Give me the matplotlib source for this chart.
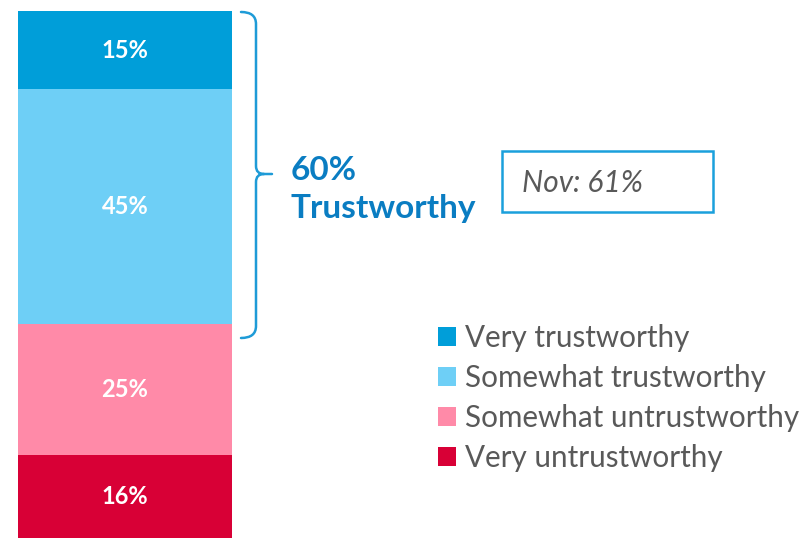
import matplotlib
matplotlib.use("Agg")
import matplotlib.pyplot as plt
from matplotlib.patches import Rectangle, PathPatch
from matplotlib.path import Path

plt.rcParams['font.family'] = ['Lato', 'DejaVu Sans']

# Stacked shares, bottom to top
categories = ["Very untrustworthy", "Somewhat untrustworthy",
              "Somewhat trustworthy", "Very trustworthy"]
values = [16, 25, 45, 15]
colors = ["#D80036", "#FF8AA8", "#6ECFF6", "#009ED9"]
trust_total = "60%"
trust_label = "Trustworthy"
prior_note = "Nov: 61%"

W, H = 803, 539
fig = plt.figure(figsize=(W / 100, H / 100), dpi=100)


def fx(x):
    return x / W


def fy(y):
    return 1 - y / H


ax = fig.add_axes([fx(18), fy(538), 214 / W, 527 / H])
bottom = 0
handles = []
for cat, val, col in zip(categories, values, colors):
    b = ax.bar(0, val, bottom=bottom, width=1.0, color=col, label=cat,
               linewidth=0)
    handles.append(b)
    ax.text(0, bottom + val / 2, f"{val}%", ha="center", va="center",
            color="white", fontsize=17, fontweight="bold")
    bottom += val
ax.set_xlim(-0.5, 0.5)
ax.set_ylim(0, sum(values))
ax.axis("off")

# Curly bracket spanning the trustworthy segments
bc = "#1E9BD7"
verts = [(241, 12), (256, 12), (256, 24), (256, 166), (256, 174), (264, 174),
         (272, 174), (264, 174), (256, 174), (256, 182), (256, 326),
         (256, 338), (241, 338)]
codes = [Path.MOVETO, Path.CURVE3, Path.CURVE3, Path.LINETO, Path.CURVE3,
         Path.CURVE3, Path.LINETO, Path.MOVETO, Path.CURVE3, Path.CURVE3,
         Path.LINETO, Path.CURVE3, Path.CURVE3]
path = Path([(fx(x), fy(y)) for x, y in verts], codes)
fig.patches.append(PathPatch(path, transform=fig.transFigure, fill=False,
                             edgecolor=bc, linewidth=1.8, capstyle="round"))

fig.text(fx(291), fy(180), trust_total, color="#0A7DC2", fontsize=24,
         fontweight="bold", ha="left", va="baseline")
fig.text(fx(291), fy(218), trust_label, color="#0A7DC2", fontsize=24,
         fontweight="bold", ha="left", va="baseline")

# Comparison box
fig.patches.append(Rectangle((fx(502), fy(212)), (713 - 502) / W,
                             (212 - 151) / H, transform=fig.transFigure,
                             fill=False, edgecolor="#1AA0DC", linewidth=1.8))
fig.text(fx(522), fy(192), prior_note, color="#595959", fontsize=21.5,
         fontstyle="italic", ha="left", va="baseline")

leg = fig.legend(handles=handles[::-1], labels=categories[::-1],
                 loc="upper left", bbox_to_anchor=(fx(438), fy(324)),
                 frameon=False, fontsize=21.3, handlelength=0.61,
                 handleheight=0.61, handletextpad=0.3, labelspacing=0.41,
                 borderaxespad=0, borderpad=0)
for t in leg.get_texts():
    t.set_color("#595959")

fig.savefig("out.png", dpi=100)
